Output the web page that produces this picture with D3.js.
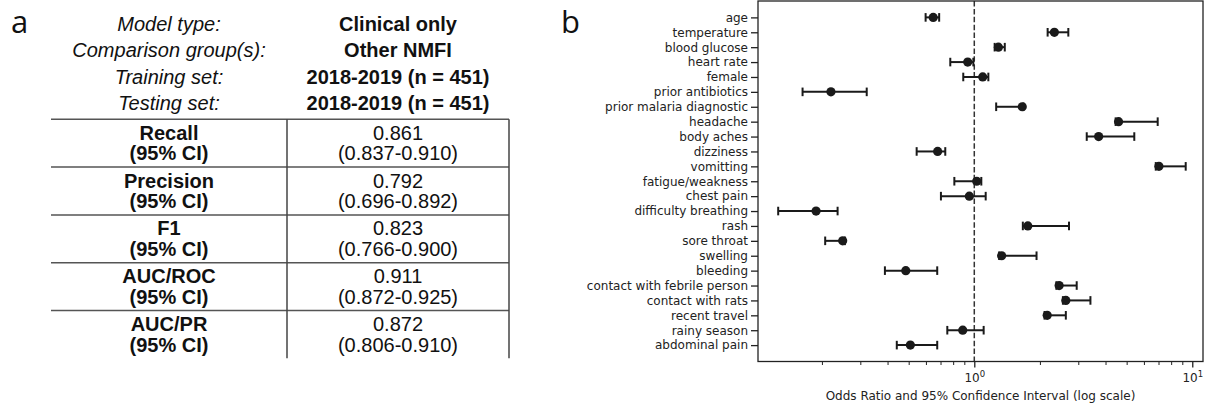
<!DOCTYPE html>
<html>
<head>
<meta charset="utf-8">
<script src="https://cdn.jsdelivr.net/npm/d3@7"></script>
<style>
  body { margin: 0; background: #fff; }
  svg { display: block; }
</style>
</head>
<body>
<svg id="fig" width="1205" height="404"></svg>
<script>
// panel a: table values
var headerLabels = ["Model type:", "Comparison group(s):", "Training set:", "Testing set:"];
var headerValues = ["Clinical only", "Other NMFI", "2018-2019 (n = 451)", "2018-2019 (n = 451)"];
var metricNames = ["Recall", "Precision", "F1", "AUC/ROC", "AUC/PR"];
var metricValues = ["0.861", "0.792", "0.823", "0.911", "0.872"];
var metricCIs = ["(0.837-0.910)", "(0.696-0.892)", "(0.766-0.900)", "(0.872-0.925)", "(0.806-0.910)"];

// panel b: odds ratios with 95% CI
var features = ["age", "temperature", "blood glucose", "heart rate", "female", "prior antibiotics",
  "prior malaria diagnostic", "headache", "body aches", "dizziness", "vomitting", "fatigue/weakness",
  "chest pain", "difficulty breathing", "rash", "sore throat", "swelling", "bleeding",
  "contact with febrile person", "contact with rats", "recent travel", "rainy season", "abdominal pain"];
var oddsRatio = [0.648, 2.33, 1.29, 0.933, 1.093, 0.220, 1.66, 4.59, 3.72, 0.679, 7.03, 1.026,
  0.949, 0.188, 1.76, 0.249, 1.335, 0.485, 2.45, 2.63, 2.16, 0.885, 0.509];
var ciLow = [0.598, 2.17, 1.24, 0.776, 0.89, 0.163, 1.26, 4.45, 3.28, 0.544, 6.8, 0.81,
  0.703, 0.126, 1.67, 0.207, 1.30, 0.389, 2.38, 2.55, 2.10, 0.752, 0.441];
var ciHigh = [0.690, 2.70, 1.38, 0.99, 1.16, 0.321, 1.68, 6.94, 5.42, 0.736, 9.33, 1.077,
  1.128, 0.236, 2.72, 0.255, 1.93, 0.676, 2.95, 3.41, 2.63, 1.104, 0.676];
var majorTicks = [1, 10];
var minorTicks = [0.2, 0.3, 0.4, 0.5, 0.6, 0.7, 0.8, 0.9, 2, 3, 4, 5, 6, 7, 8, 9];

var svg = d3.select("#fig");
var tableFont = "'Liberation Sans', Arial, sans-serif";
var mplFont = "'DejaVu Sans', sans-serif";

// panel letters
svg.append("text").attr("x", 11).attr("y", 33).text("a")
  .style("font-family", "'Open Sans', sans-serif").style("font-size", "31px").attr("fill", "#111");
svg.append("text").attr("x", 561).attr("y", 33).text("b")
  .style("font-family", "'Open Sans', sans-serif").style("font-size", "31px").attr("fill", "#111");

// ---------- table ----------
var leftX = 51, midX = 287, rightX = 509;
var leftC = 169, rightC = 398;
var tableTop = 119.3, rowH = 47.8;

var head = svg.append("g");
headerLabels.forEach(function (d, i) {
  var y = 31 + i * 26.3;
  head.append("text").attr("x", leftC).attr("y", y).attr("text-anchor", "middle")
    .style("font-family", tableFont).style("font-size", "20px").style("font-style", "italic")
    .attr("fill", "#111").text(d);
  head.append("text").attr("x", rightC).attr("y", y).attr("text-anchor", "middle")
    .style("font-family", tableFont).style("font-size", "20px").style("font-weight", "bold")
    .attr("fill", "#111").text(headerValues[i]);
});

var rows = svg.append("g");
metricNames.forEach(function (d, i) {
  var top = tableTop + i * rowH;
  rows.append("line").attr("x1", leftX).attr("x2", rightX).attr("y1", top).attr("y2", top)
    .attr("stroke", "#555").attr("stroke-width", 1.5);
  rows.append("text").attr("x", leftC).attr("y", top + 20.5).attr("text-anchor", "middle")
    .style("font-family", tableFont).style("font-size", "20px").style("font-weight", "bold")
    .attr("fill", "#111").text(d);
  rows.append("text").attr("x", leftC).attr("y", top + 41).attr("text-anchor", "middle")
    .style("font-family", tableFont).style("font-size", "20px").style("font-weight", "bold")
    .attr("fill", "#111").text("(95% CI)");
  rows.append("text").attr("x", rightC).attr("y", top + 20.5).attr("text-anchor", "middle")
    .style("font-family", tableFont).style("font-size", "20px")
    .attr("fill", "#111").text(metricValues[i]);
  rows.append("text").attr("x", rightC).attr("y", top + 41).attr("text-anchor", "middle")
    .style("font-family", tableFont).style("font-size", "20px")
    .attr("fill", "#111").text(metricCIs[i]);
});
var tableBottom = tableTop + metricNames.length * rowH;
[midX, rightX].forEach(function (x) {
  rows.append("line").attr("x1", x).attr("x2", x).attr("y1", tableTop).attr("y2", tableBottom)
    .attr("stroke", "#444").attr("stroke-width", 1.5);
});

// ---------- forest plot ----------
var plotL = 758, plotR = 1203, plotT = 1, plotB = 361.5;

var x = d3.scaleLog().domain([0.1018, 11.2]).range([plotL, plotR]);
var y = d3.scalePoint().domain(features).range([plotT, plotB]).padding(1.1);

var plot = svg.append("g");

// y axis
var yAxis = plot.append("g").attr("transform", "translate(" + plotL + ",0)")
  .call(d3.axisLeft(y).tickSize(7).tickPadding(3));
yAxis.select(".domain").remove();
yAxis.selectAll("line").attr("stroke", "#222").attr("stroke-width", 1.3);
yAxis.selectAll("text").style("font-family", mplFont).style("font-size", "12px").attr("fill", "#222");

// x axis: minor then major
var xMinor = plot.append("g").attr("transform", "translate(0," + plotB + ")")
  .call(d3.axisBottom(x).tickValues(minorTicks).tickSize(3.5).tickFormat(""));
xMinor.select(".domain").remove();
xMinor.selectAll("line").attr("stroke", "#222").attr("stroke-width", 1);

var xMajor = plot.append("g").attr("transform", "translate(0," + plotB + ")")
  .call(d3.axisBottom(x).tickValues(majorTicks).tickSize(6).tickFormat(""));
xMajor.select(".domain").remove();
xMajor.selectAll("line").attr("stroke", "#222").attr("stroke-width", 1.3);
xMajor.selectAll(".tick").append("text")
  .attr("y", 20).attr("text-anchor", "middle")
  .style("font-family", mplFont).style("font-size", "12px").attr("fill", "#222")
  .each(function (d) {
    var t = d3.select(this);
    t.append("tspan").text("10");
    t.append("tspan").attr("dy", -5).style("font-size", "8.5px").text(Math.round(Math.log10(d)));
  });

plot.append("text").attr("x", (plotL + plotR) / 2).attr("y", 400).attr("text-anchor", "middle")
  .style("font-family", mplFont).style("font-size", "12px").attr("fill", "#222")
  .text("Odds Ratio and 95% Confidence Interval (log scale)");

// reference line at OR = 1
plot.append("line").attr("x1", x(1)).attr("x2", x(1)).attr("y1", plotT).attr("y2", plotB)
  .attr("stroke", "#333").attr("stroke-width", 1.5).attr("stroke-dasharray", "5.5,2.4");

// error bars
var bars = plot.append("g").selectAll("g").data(features).enter().append("g");
bars.append("line")
  .attr("x1", function (d, i) { return x(ciLow[i]); })
  .attr("x2", function (d, i) { return x(ciHigh[i]); })
  .attr("y1", function (d) { return y(d); })
  .attr("y2", function (d) { return y(d); })
  .attr("stroke", "#1a1a1a").attr("stroke-width", 2);
bars.append("line")
  .attr("x1", function (d, i) { return x(ciLow[i]); })
  .attr("x2", function (d, i) { return x(ciLow[i]); })
  .attr("y1", function (d) { return y(d) - 4.3; })
  .attr("y2", function (d) { return y(d) + 4.3; })
  .attr("stroke", "#1a1a1a").attr("stroke-width", 2);
bars.append("line")
  .attr("x1", function (d, i) { return x(ciHigh[i]); })
  .attr("x2", function (d, i) { return x(ciHigh[i]); })
  .attr("y1", function (d) { return y(d) - 4.3; })
  .attr("y2", function (d) { return y(d) + 4.3; })
  .attr("stroke", "#1a1a1a").attr("stroke-width", 2);
bars.append("circle")
  .attr("cx", function (d, i) { return x(oddsRatio[i]); })
  .attr("cy", function (d) { return y(d); })
  .attr("r", 4.6).attr("fill", "#1a1a1a");

// frame
plot.append("rect").attr("x", plotL).attr("y", plotT).attr("width", plotR - plotL).attr("height", plotB - plotT)
  .attr("fill", "none").attr("stroke", "#222").attr("stroke-width", 1.3);
</script>
</body>
</html>
